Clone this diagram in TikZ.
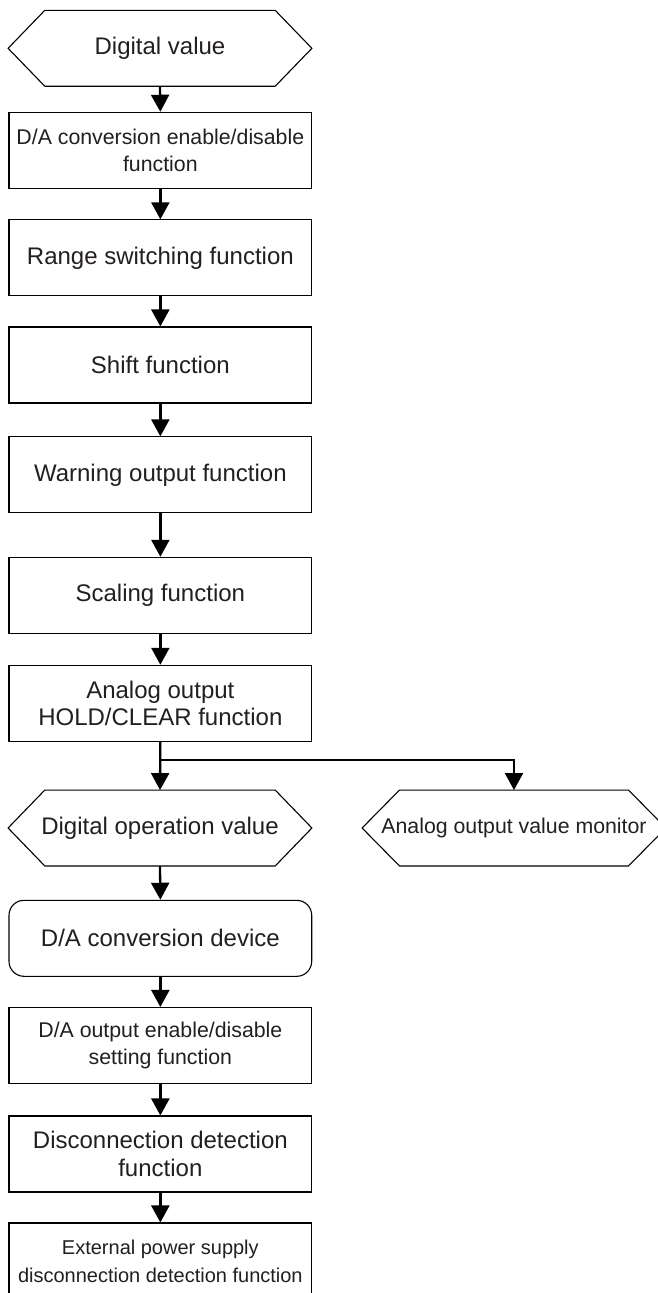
\documentclass[tikz,border=0pt]{standalone}
\usepackage{fontspec}
\setmainfont{Liberation Sans}
\usetikzlibrary{arrows.meta}
\definecolor{txt}{HTML}{231F20}
\newcommand\fntL{\fontsize{24}{27.5}\selectfont}
\newcommand\fntM{\fontsize{21.3}{26.5}\selectfont}
\newcommand\fntS{\fontsize{20}{28}\selectfont}
\newcommand\hexoutline[2]{\draw[boxline] ([xshift=#2]#1.north west) -- ([xshift=-#2]#1.north east) -- (#1.east) -- ([xshift=-#2]#1.south east) -- ([xshift=#2]#1.south west) -- (#1.west) -- cycle;}
\begin{document}
\begin{tikzpicture}[x=1pt,y=-1pt,
  boxline/.style={draw=black,line width=1.1pt},
  fbox/.style={boxline, minimum width=302.7pt, minimum height=76pt, inner sep=0pt, align=center, text=txt, font=\fntL},
  hexnode/.style={minimum width=303.4pt, minimum height=75.5pt, inner sep=0pt, align=center, text=txt, font=\fntL},
  conn/.style={line width=2.3pt, draw=black},
  arr/.style={conn, -{Triangle[length=17pt,width=18pt]}}]
\useasboundingbox (0,0) rectangle (658,1293);
\clip (0,0) rectangle (658,1293);
\fill[white] (0,0) rectangle (658,1293);

\node[hexnode] (h1) at (160,48.3) {Digital value};
\hexoutline{h1}{36.7pt}
\node[fbox, font=\fntM] (b1) at (160.35,150.3) {D/A conversion enable/disable\\function};
\node[fbox] (b2) at (160.35,257.9) {Range switching function};
\node[fbox] (b3) at (160.35,365) {Shift function};
\node[fbox] (b4) at (160.35,474.9) {Warning output function};
\node[fbox] (b5) at (160.35,595.3) {Scaling function};
\node[fbox] (b6) at (160.35,703.3) {Analog output\\HOLD/CLEAR function};
\node[hexnode] (h2) at (160,828) {Digital operation value};
\hexoutline{h2}{36.7pt}
\node[hexnode, minimum width=303.4pt, font=\fntM] (h3) at (514,828) {Analog output value monitor};
\hexoutline{h3}{37.4pt}
\node[fbox, rounded corners=15pt] (r1) at (160.35,938.3) {D/A conversion device};
\node[fbox, font=\fntM] (b7) at (160.35,1045.5) {D/A output enable/disable\\setting function};
\node[fbox] (b8) at (160.35,1154) {Disconnection detection\\function};
\node[fbox, font=\fntS] (b9) at (160.35,1261) {External power supply\\disconnection detection function};

\coordinate (j) at (160.35,760);
\draw[arr] (h1.south) -- (b1.north);
\draw[arr] (b1.south) -- (b2.north);
\draw[arr] (b2.south) -- (b3.north);
\draw[arr] (b3.south) -- (b4.north);
\draw[arr] (b4.south) -- (b5.north);
\draw[arr] (b5.south) -- (b6.north);
\draw[arr] (b6.south) -- (h2.north);
\draw[arr] (j) -| (h3.north);
\draw[arr] (h2.south) -- (r1.north);
\draw[arr] (r1.south) -- (b7.north);
\draw[arr] (b7.south) -- (b8.north);
\draw[arr] (b8.south) -- (b9.north);
\end{tikzpicture}
\end{document}
